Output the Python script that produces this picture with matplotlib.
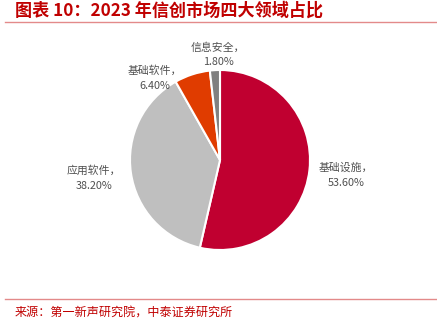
import matplotlib.pyplot as plt
from matplotlib.lines import Line2D

plt.rcParams['font.family'] = ['Noto Sans CJK SC', 'DejaVu Sans']

categories = ['基础设施', '应用软件', '基础软件', '信息安全']
shares = [53.6, 38.2, 6.4, 1.8]
colors = ['#C00030', '#BFBFBF', '#E03C00', '#808080']

# label centres (radius units) picked to match the reference layout
label_pos = [(1.40, -0.17), (-1.40, -0.2), (-0.72, 0.91), (-0.02, 1.17)]

W, H = 437, 328
fig = plt.figure(figsize=(W / 100, H / 100), dpi=100)

# pie centre (220, 160) px from top-left, radius 90 px
r = 90
ax = fig.add_axes([20 / W, 48 / H, 400 / W, 240 / H])
ax.pie(shares, colors=colors, startangle=90, counterclock=False,
       wedgeprops=dict(edgecolor='white', linewidth=1.5))
ax.set_xlim(-200 / r, 200 / r)
ax.set_ylim(-120 / r, 120 / r)
ax.set_aspect('equal')
ax.axis('off')

for name, val, (x, y) in zip(categories, shares, label_pos):
    ax.text(x, y, '%s，\n%.2f%%' % (name, val), ha='center', va='center',
            fontsize=7.8, color='#505050', linespacing=1.6)

red = '#C00000'
fig.text(15 / W, 1 - 11 / H, '图表 10：2023 年信创市场四大领域占比', ha='left', va='center',
         fontsize=12.3, fontweight='bold', color=red, style='italic')
fig.add_artist(Line2D([5 / W, 1], [1 - 22 / H, 1 - 22 / H], color='#E38A8A', lw=1))
fig.add_artist(Line2D([5 / W, 1], [1 - 299 / H, 1 - 299 / H], color='#E38A8A', lw=1))
fig.text(15 / W, 1 - 313 / H, '来源：第一新声研究院，中泰证券研究所', ha='left', va='center',
         fontsize=8.7, color=red)

fig.savefig('out.png', dpi=100)
